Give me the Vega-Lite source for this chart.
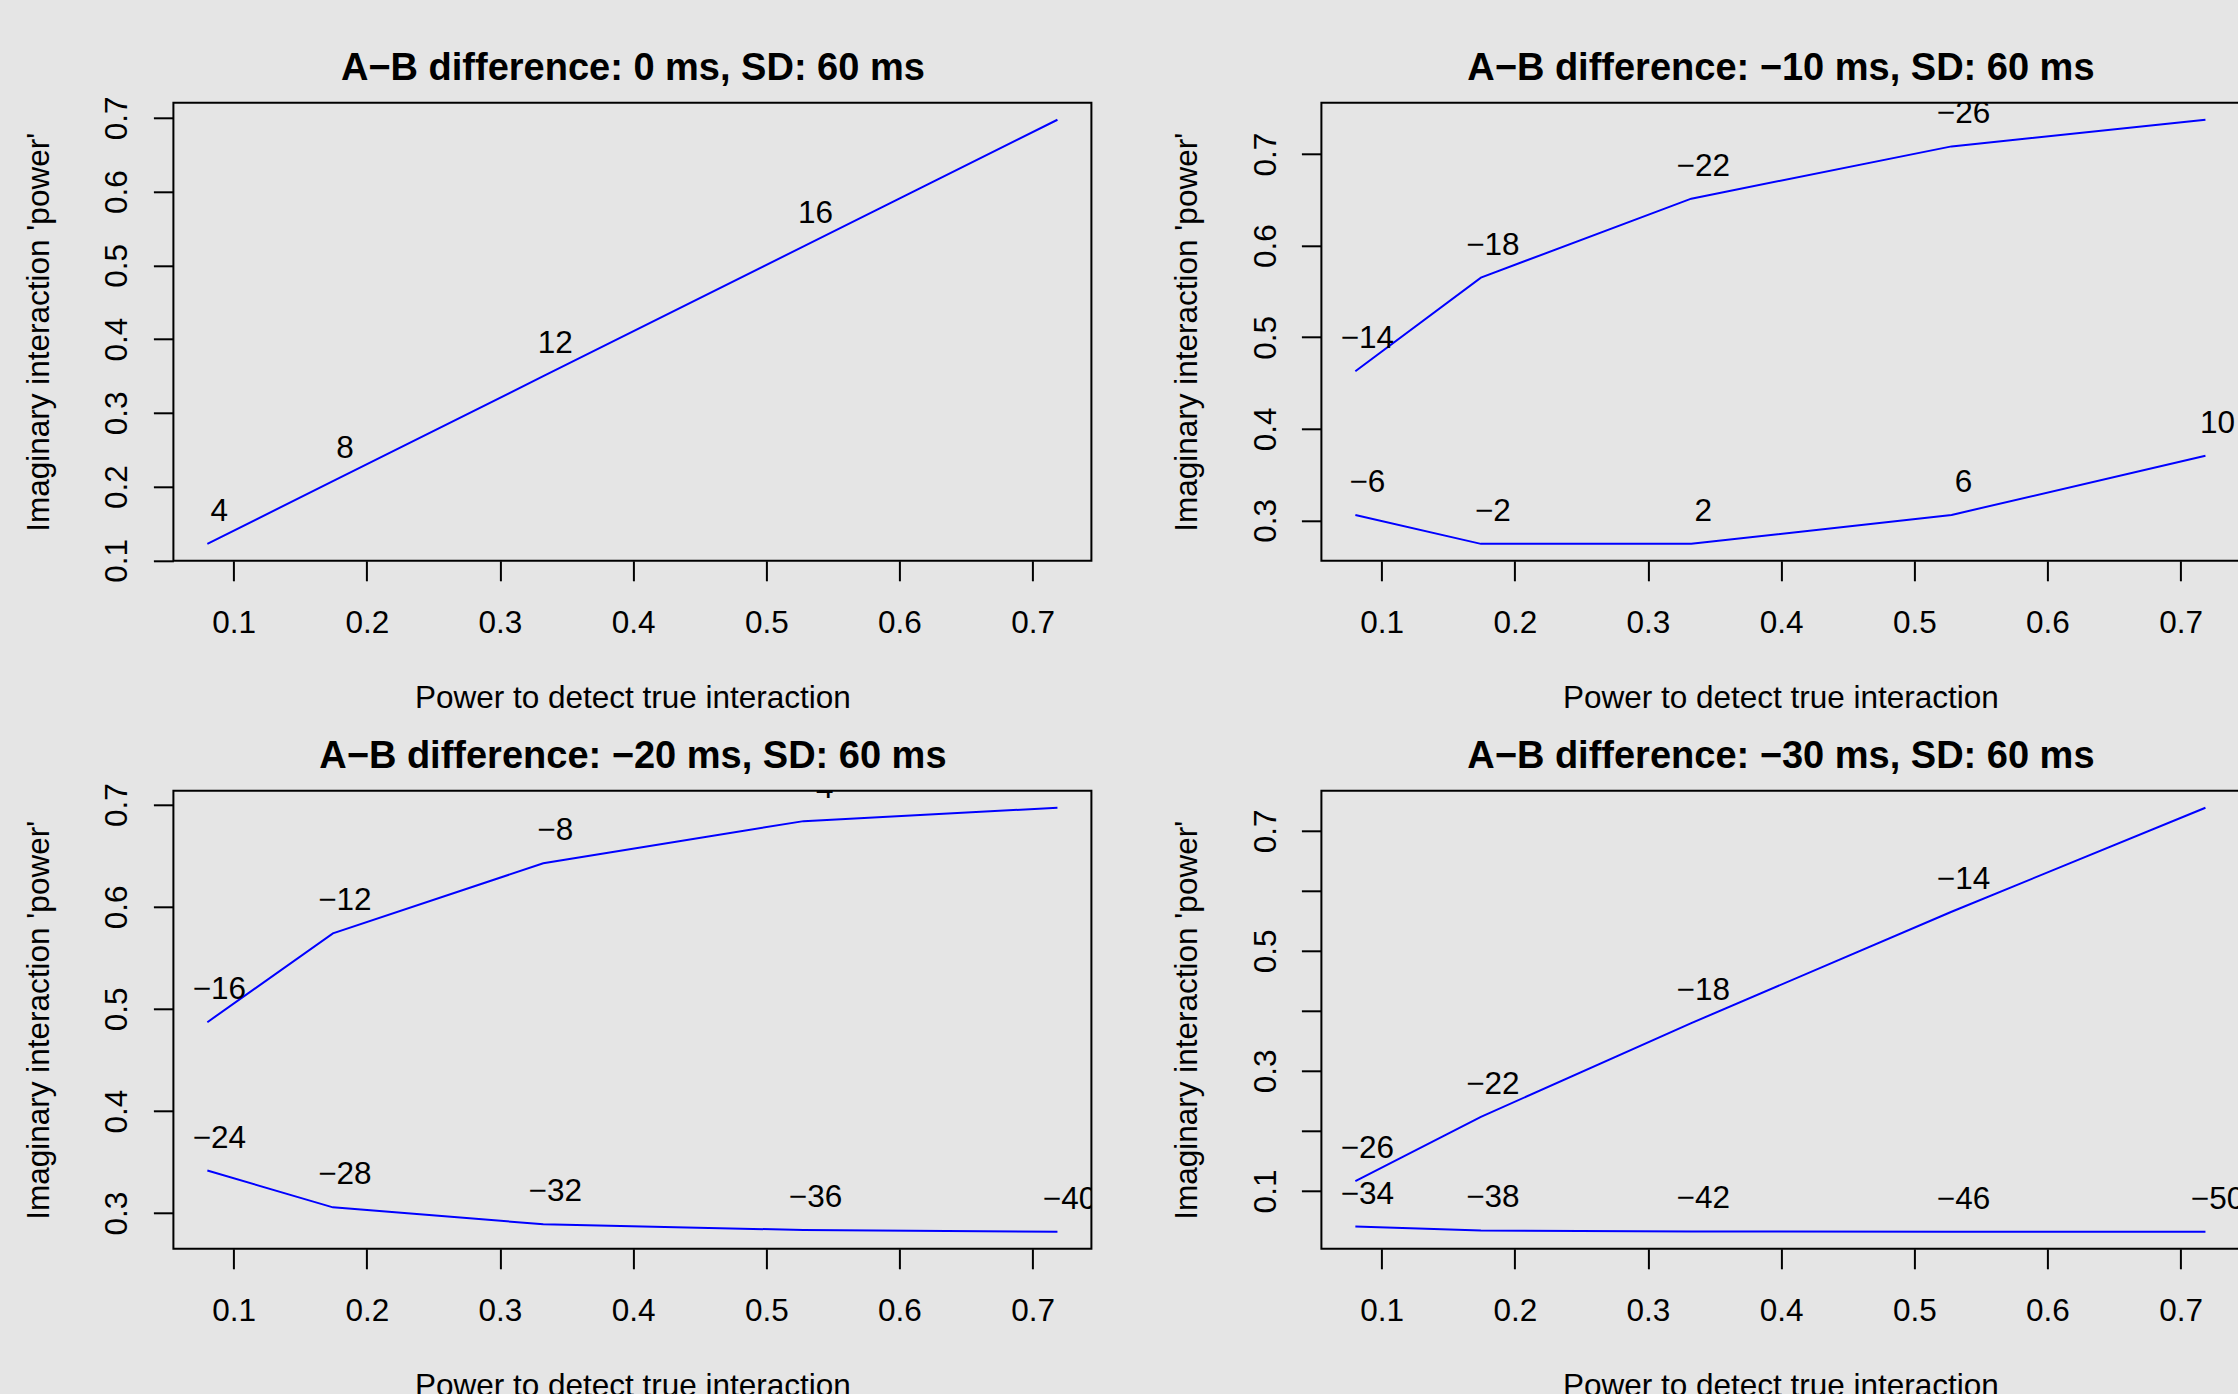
{
  "$schema": "https://vega.github.io/schema/vega-lite/v6.json",
  "autosize": {"type": "none"},
  "padding": {"left": 173.4, "top": 102.8, "right": 2064.6, "bottom": 1291.2},
  "background": "#E5E5E5",
  "datasets": {
    "pts": [
      {"panel": "p0", "series": "a", "x": 0.0802, "y": 0.1224, "label": "4"},
      {"panel": "p0", "series": "a", "x": 0.1745, "y": 0.2074, "label": "8"},
      {"panel": "p0", "series": "a", "x": 0.3325, "y": 0.3497, "label": "12"},
      {"panel": "p0", "series": "a", "x": 0.528, "y": 0.5258, "label": "16"},
      {"panel": "p0", "series": "a", "x": 0.7187, "y": 0.6975, "label": "20"},

      {"panel": "p10", "series": "a", "x": 0.0802, "y": 0.4629, "label": "−14"},
      {"panel": "p10", "series": "a", "x": 0.1745, "y": 0.5652, "label": "−18"},
      {"panel": "p10", "series": "a", "x": 0.3325, "y": 0.6514, "label": "−22"},
      {"panel": "p10", "series": "a", "x": 0.528, "y": 0.7085, "label": "−26"},
      {"panel": "p10", "series": "a", "x": 0.7187, "y": 0.7376, "label": "−30"},
      {"panel": "p10", "series": "b", "x": 0.0802, "y": 0.306, "label": "−6"},
      {"panel": "p10", "series": "b", "x": 0.1745, "y": 0.2744, "label": "−2"},
      {"panel": "p10", "series": "b", "x": 0.3325, "y": 0.2744, "label": "2"},
      {"panel": "p10", "series": "b", "x": 0.528, "y": 0.306, "label": "6"},
      {"panel": "p10", "series": "b", "x": 0.7187, "y": 0.3707, "label": "10"},

      {"panel": "p20", "series": "a", "x": 0.0802, "y": 0.487, "label": "−16"},
      {"panel": "p20", "series": "a", "x": 0.1745, "y": 0.574, "label": "−12"},
      {"panel": "p20", "series": "a", "x": 0.3325, "y": 0.6426, "label": "−8"},
      {"panel": "p20", "series": "a", "x": 0.528, "y": 0.6839, "label": "−4"},
      {"panel": "p20", "series": "a", "x": 0.7187, "y": 0.697, "label": "0"},
      {"panel": "p20", "series": "b", "x": 0.0802, "y": 0.3417, "label": "−24"},
      {"panel": "p20", "series": "b", "x": 0.1745, "y": 0.3057, "label": "−28"},
      {"panel": "p20", "series": "b", "x": 0.3325, "y": 0.2891, "label": "−32"},
      {"panel": "p20", "series": "b", "x": 0.528, "y": 0.2835, "label": "−36"},
      {"panel": "p20", "series": "b", "x": 0.7187, "y": 0.2817, "label": "−40"},

      {"panel": "p30", "series": "a", "x": 0.0802, "y": 0.1163, "label": "−26"},
      {"panel": "p30", "series": "a", "x": 0.1745, "y": 0.2235, "label": "−22"},
      {"panel": "p30", "series": "a", "x": 0.3325, "y": 0.3796, "label": "−18"},
      {"panel": "p30", "series": "a", "x": 0.528, "y": 0.5652, "label": "−14"},
      {"panel": "p30", "series": "a", "x": 0.7187, "y": 0.7383, "label": "−10"},
      {"panel": "p30", "series": "b", "x": 0.0802, "y": 0.0408, "label": "−34"},
      {"panel": "p30", "series": "b", "x": 0.1745, "y": 0.0342, "label": "−38"},
      {"panel": "p30", "series": "b", "x": 0.3325, "y": 0.0327, "label": "−42"},
      {"panel": "p30", "series": "b", "x": 0.528, "y": 0.032, "label": "−46"},
      {"panel": "p30", "series": "b", "x": 0.7187, "y": 0.032, "label": "−50"}
    ]
  },
  "columns": 2,
  "spacing": 230,
  "bounds": "flush",
  "concat": [
    {
      "width": 918, "height": 458,
      "data": {"name": "pts"},
      "transform": [{"filter": "datum.panel == 'p0'"}],
      "layer": [
        {
          "mark": {"type": "line", "color": "#0000FF", "strokeWidth": 2, "clip": true},
          "encoding": {
            "x": {"field": "x", "type": "quantitative", "scale": {"domain": [0.0547, 0.7442], "nice": false, "zero": false},
                  "axis": {"orient": "bottom", "values": [0.1, 0.2, 0.3, 0.4, 0.5, 0.6, 0.7], "format": ".1f", "title": "Power to detect true interaction"}},
            "y": {"field": "y", "type": "quantitative", "scale": {"domain": [0.0994, 0.7205], "nice": false, "zero": false},
                  "axis": {"orient": "left", "values": [0.1, 0.2, 0.3, 0.4, 0.5, 0.6, 0.7], "format": ".1f", "title": "Imaginary interaction 'power'"}},
            "detail": {"field": "series"}
          }
        },
        {
          "mark": {"type": "text", "clip": true, "dx": 12, "dy": -32, "baseline": "middle", "align": "center", "font": "Liberation Sans", "fontSize": 31.5, "color": "black"},
          "encoding": {
            "x": {"field": "x", "type": "quantitative",
                  "axis": {"orient": "top", "labels": false, "ticks": false, "domain": false, "title": "A−B difference: 0 ms, SD: 60 ms", "titleFontSize": 38, "titleFontWeight": "bold", "titleBaseline": "alphabetic", "titlePadding": 23.2}},
            "y": {"field": "y", "type": "quantitative",
                  "axis": {"orient": "left", "values": [0.1, 0.2, 0.3, 0.4, 0.5, 0.6, 0.7], "format": ".1f", "title": "Imaginary interaction 'power'"}},
            "text": {"field": "label"}
          }
        }
      ],
      "resolve": {"axis": {"x": "independent"}}
    },
    {
      "width": 918, "height": 458,
      "data": {"name": "pts"},
      "transform": [{"filter": "datum.panel == 'p10'"}],
      "layer": [
        {
          "mark": {"type": "line", "color": "#0000FF", "strokeWidth": 2, "clip": true},
          "encoding": {
            "x": {"field": "x", "type": "quantitative", "scale": {"domain": [0.0547, 0.7442], "nice": false, "zero": false},
                  "axis": {"orient": "bottom", "values": [0.1, 0.2, 0.3, 0.4, 0.5, 0.6, 0.7], "format": ".1f", "title": "Power to detect true interaction"}},
            "y": {"field": "y", "type": "quantitative", "scale": {"domain": [0.2559, 0.7561], "nice": false, "zero": false},
                  "axis": {"orient": "left", "values": [0.3, 0.4, 0.5, 0.6, 0.7], "format": ".1f", "title": "Imaginary interaction 'power'"}},
            "detail": {"field": "series"}
          }
        },
        {
          "mark": {"type": "text", "clip": true, "dx": 12, "dy": -32, "baseline": "middle", "align": "center", "font": "Liberation Sans", "fontSize": 31.5, "color": "black"},
          "encoding": {
            "x": {"field": "x", "type": "quantitative",
                  "axis": {"orient": "top", "labels": false, "ticks": false, "domain": false, "title": "A−B difference: −10 ms, SD: 60 ms", "titleFontSize": 38, "titleFontWeight": "bold", "titleBaseline": "alphabetic", "titlePadding": 23.2}},
            "y": {"field": "y", "type": "quantitative",
                  "axis": {"orient": "left", "values": [0.3, 0.4, 0.5, 0.6, 0.7], "format": ".1f", "title": "Imaginary interaction 'power'"}},
            "text": {"field": "label"}
          }
        }
      ],
      "resolve": {"axis": {"x": "independent"}}
    },
    {
      "width": 918, "height": 458,
      "data": {"name": "pts"},
      "transform": [{"filter": "datum.panel == 'p20'"}],
      "layer": [
        {
          "mark": {"type": "line", "color": "#0000FF", "strokeWidth": 2, "clip": true},
          "encoding": {
            "x": {"field": "x", "type": "quantitative", "scale": {"domain": [0.0547, 0.7442], "nice": false, "zero": false},
                  "axis": {"orient": "bottom", "values": [0.1, 0.2, 0.3, 0.4, 0.5, 0.6, 0.7], "format": ".1f", "title": "Power to detect true interaction"}},
            "y": {"field": "y", "type": "quantitative", "scale": {"domain": [0.2651, 0.7136], "nice": false, "zero": false},
                  "axis": {"orient": "left", "values": [0.3, 0.4, 0.5, 0.6, 0.7], "format": ".1f", "title": "Imaginary interaction 'power'"}},
            "detail": {"field": "series"}
          }
        },
        {
          "mark": {"type": "text", "clip": true, "dx": 12, "dy": -32, "baseline": "middle", "align": "center", "font": "Liberation Sans", "fontSize": 31.5, "color": "black"},
          "encoding": {
            "x": {"field": "x", "type": "quantitative",
                  "axis": {"orient": "top", "labels": false, "ticks": false, "domain": false, "title": "A−B difference: −20 ms, SD: 60 ms", "titleFontSize": 38, "titleFontWeight": "bold", "titleBaseline": "alphabetic", "titlePadding": 23.2}},
            "y": {"field": "y", "type": "quantitative",
                  "axis": {"orient": "left", "values": [0.3, 0.4, 0.5, 0.6, 0.7], "format": ".1f", "title": "Imaginary interaction 'power'"}},
            "text": {"field": "label"}
          }
        }
      ],
      "resolve": {"axis": {"x": "independent"}}
    },
    {
      "width": 918, "height": 458,
      "data": {"name": "pts"},
      "transform": [{"filter": "datum.panel == 'p30'"}],
      "layer": [
        {
          "mark": {"type": "line", "color": "#0000FF", "strokeWidth": 2, "clip": true},
          "encoding": {
            "x": {"field": "x", "type": "quantitative", "scale": {"domain": [0.0547, 0.7442], "nice": false, "zero": false},
                  "axis": {"orient": "bottom", "values": [0.1, 0.2, 0.3, 0.4, 0.5, 0.6, 0.7], "format": ".1f", "title": "Power to detect true interaction"}},
            "y": {"field": "y", "type": "quantitative", "scale": {"domain": [0.0037, 0.7666], "nice": false, "zero": false},
                  "axis": {"orient": "left", "values": [0.1, 0.2, 0.3, 0.4, 0.5, 0.6, 0.7], "format": ".1f", "labelExpr": "round(datum.value * 10) % 2 == 1 ? datum.label : ''", "title": "Imaginary interaction 'power'"}},
            "detail": {"field": "series"}
          }
        },
        {
          "mark": {"type": "text", "clip": true, "dx": 12, "dy": -32, "baseline": "middle", "align": "center", "font": "Liberation Sans", "fontSize": 31.5, "color": "black"},
          "encoding": {
            "x": {"field": "x", "type": "quantitative",
                  "axis": {"orient": "top", "labels": false, "ticks": false, "domain": false, "title": "A−B difference: −30 ms, SD: 60 ms", "titleFontSize": 38, "titleFontWeight": "bold", "titleBaseline": "alphabetic", "titlePadding": 23.2}},
            "y": {"field": "y", "type": "quantitative",
                  "axis": {"orient": "left", "values": [0.1, 0.2, 0.3, 0.4, 0.5, 0.6, 0.7], "format": ".1f", "labelExpr": "round(datum.value * 10) % 2 == 1 ? datum.label : ''", "title": "Imaginary interaction 'power'"}},
            "text": {"field": "label"}
          }
        }
      ],
      "resolve": {"axis": {"x": "independent"}}
    }
  ],
  "config": {
    "view": {"stroke": "black", "strokeWidth": 2, "fill": null},
    "font": "Liberation Sans",
    "axis": {
      "labelFont": "Liberation Sans", "labelFontSize": 31.5, "labelColor": "black",
      "titleFont": "Liberation Sans", "titleFontSize": 31.5, "titleFontWeight": "normal", "titleColor": "black",
      "tickColor": "black", "tickWidth": 2, "tickSize": 20,
      "domain": false, "grid": false, "labelFlush": false, "labelOverlap": false,
      "minExtent": 0, "maxExtent": 400
    },
    "axisBottom": {"labelPadding": 26.7, "titlePadding": 43.5},
    "axisLeft": {"labelAngle": 270, "labelAlign": "center", "labelBaseline": "bottom", "labelPadding": 19.4, "titlePadding": 46.5}
  }
}
